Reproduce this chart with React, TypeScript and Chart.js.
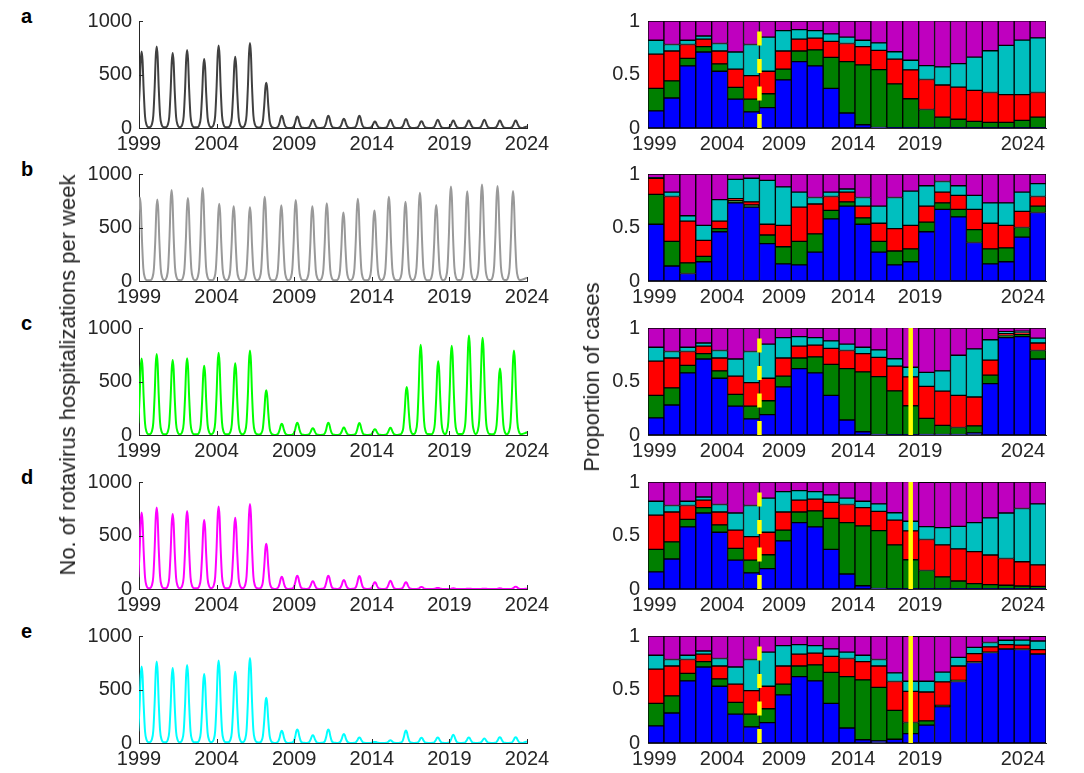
import React, { useEffect, useRef } from 'react';
import { Chart, registerables } from 'chart.js';

Chart.register(...registerables);

const FONT = "'Liberation Sans', Arial, Helvetica, sans-serif";
const TEXT = '#262626';

// ---------- axes ----------
const barYears = [1999, 2000, 2001, 2002, 2003, 2004, 2005, 2006, 2007, 2008, 2009, 2010, 2011, 2012, 2013, 2014, 2015, 2016, 2017, 2018, 2019, 2020, 2021, 2022, 2023];
const xTickYears = [1999, 2004, 2009, 2014, 2019, 2024];
// where the year labels of the proportion panels sit on the bar axis
const barLabelPositions = [1999.4, 2003.65, 2007.54, 2011.88, 2016.09, 2022.55];
const countTicks = [0, 500, 1000];
const proportionTicks = [0, 0.5, 1];
const vaccineStart = 2006; // dashed yellow line
const switchTime = 2015.5; // solid yellow line
const panelLetters = ['a', 'b', 'c', 'd', 'e'];
const lineColors = ['#404040', '#999999', '#00ff00', '#ff00ff', '#00ffff'];
const serotypeColors = ['#0000ff', '#007f00', '#ff0000', '#00bfbf', '#bf00bf'];

// ---------- weekly hospitalisations: season peak times and peak heights ----------
const timesA = [1999.17, 2000.14, 2001.17, 2002.1, 2003.2, 2004.13, 2005.2, 2006.15, 2007.2, 2008.2, 2009.2, 2010.2, 2011.2, 2012.2, 2013.2, 2014.2, 2015.2, 2016.2, 2017.2, 2018.25, 2019.25, 2020.25, 2021.25, 2022.25, 2023.27];
const timesB = [1999.06, 2000.18, 2001.1, 2002.15, 2003.1, 2004.17, 2005.1, 2006.15, 2007.1, 2008.17, 2009.1, 2010.17, 2011.1, 2012.17, 2013.1, 2014.17, 2015.1, 2016.17, 2017.1, 2018.15, 2019.1, 2020.15, 2021.1, 2022.1, 2023.1];
const timesC = [1999.17, 2000.14, 2001.17, 2002.1, 2003.2, 2004.13, 2005.2, 2006.15, 2007.2, 2008.2, 2009.2, 2010.2, 2011.2, 2012.2, 2013.2, 2014.2, 2015.2, 2016.25, 2017.15, 2018.28, 2019.15, 2020.26, 2021.14, 2022.26, 2023.16];

const peaksA = [714, 762, 702, 730, 644, 771, 667, 794, 422, 114, 108, 76, 114, 86, 114, 60, 76, 83, 63, 76, 70, 70, 76, 70, 70];
const peaksB = [781, 762, 851, 775, 870, 721, 698, 689, 787, 708, 756, 698, 727, 641, 768, 660, 787, 740, 825, 711, 883, 838, 902, 889, 841];
const peaksC = [714, 756, 702, 717, 648, 768, 670, 790, 419, 105, 114, 63, 114, 70, 111, 54, 67, 448, 844, 689, 835, 930, 908, 622, 790];
const peaksD = [714, 762, 702, 730, 644, 771, 667, 794, 422, 114, 124, 73, 124, 83, 121, 63, 76, 63, 19, 10, 6, 3, 3, 6, 22];
const peaksE = [714, 762, 702, 730, 644, 771, 667, 794, 422, 114, 127, 73, 127, 83, 51, 10, 25, 117, 48, 51, 76, 51, 41, 54, 54];
const endValues = [15, 30, 25, 3, 15]; // value at the right edge (start of the 2024 season)

// shape of one season's epidemic curve around its peak: [years from peak, fraction of peak]
const seasonShape = [
  [-0.45, 0.01], [-0.32, 0.04], [-0.22, 0.15], [-0.13, 0.5], [-0.06, 0.88], [0, 1],
  [0.06, 0.88], [0.13, 0.5], [0.22, 0.15], [0.32, 0.04], [0.45, 0.01],
];

// ---------- serotype proportions per year (bottom to top) ----------
const aBlue = [0.16, 0.28, 0.58, 0.71, 0.53, 0.27, 0.15, 0.19, 0.45, 0.62, 0.58, 0.37, 0.14, 0.03, 0.005, 0.003, 0.003, 0.003, 0.002, 0.002, 0.002, 0.002, 0.002, 0.002, 0.002];
const aGreen = [0.21, 0.16, 0.07, 0.05, 0.07, 0.11, 0.12, 0.13, 0.1, 0.1, 0.15, 0.29, 0.48, 0.56, 0.54, 0.41, 0.27, 0.17, 0.1, 0.08, 0.06, 0.05, 0.05, 0.07, 0.1];
const aRed = [0.32, 0.28, 0.13, 0.07, 0.12, 0.17, 0.22, 0.21, 0.17, 0.11, 0.11, 0.15, 0.17, 0.17, 0.18, 0.23, 0.27, 0.28, 0.3, 0.3, 0.29, 0.28, 0.26, 0.24, 0.23];
const aCyan = [0.13, 0.06, 0.04, 0.03, 0.07, 0.16, 0.29, 0.32, 0.19, 0.09, 0.07, 0.07, 0.06, 0.06, 0.07, 0.07, 0.09, 0.13, 0.17, 0.22, 0.31, 0.39, 0.46, 0.51, 0.51];
const aMagenta = [0.18, 0.22, 0.18, 0.14, 0.21, 0.29, 0.22, 0.15, 0.09, 0.08, 0.09, 0.12, 0.15, 0.18, 0.21, 0.29, 0.37, 0.42, 0.43, 0.4, 0.34, 0.28, 0.23, 0.18, 0.16];

const bBlue = [0.53, 0.14, 0.07, 0.18, 0.46, 0.73, 0.69, 0.35, 0.16, 0.15, 0.27, 0.58, 0.7, 0.53, 0.27, 0.15, 0.18, 0.46, 0.67, 0.6, 0.36, 0.16, 0.18, 0.41, 0.64];
const bGreen = [0.28, 0.23, 0.1, 0.05, 0.03, 0.02, 0.02, 0.08, 0.16, 0.22, 0.17, 0.08, 0.04, 0.06, 0.1, 0.13, 0.12, 0.09, 0.06, 0.07, 0.12, 0.14, 0.13, 0.09, 0.06];
const bRed = [0.15, 0.42, 0.39, 0.15, 0.07, 0.02, 0.03, 0.1, 0.2, 0.32, 0.28, 0.13, 0.09, 0.11, 0.17, 0.21, 0.22, 0.15, 0.1, 0.13, 0.19, 0.24, 0.21, 0.15, 0.09];
const bCyan = [0.005, 0.04, 0.05, 0.14, 0.2, 0.18, 0.22, 0.41, 0.36, 0.14, 0.06, 0.04, 0.03, 0.08, 0.16, 0.29, 0.32, 0.19, 0.1, 0.09, 0.13, 0.19, 0.21, 0.18, 0.12];
const bMagenta = [0.035, 0.17, 0.39, 0.48, 0.24, 0.05, 0.04, 0.06, 0.12, 0.17, 0.22, 0.17, 0.14, 0.22, 0.3, 0.22, 0.16, 0.11, 0.07, 0.11, 0.2, 0.27, 0.27, 0.17, 0.09];

const cBlue = [0.16, 0.28, 0.58, 0.71, 0.53, 0.27, 0.15, 0.19, 0.45, 0.62, 0.58, 0.37, 0.14, 0.03, 0.005, 0.003, 0.003, 0.005, 0.005, 0.005, 0.02, 0.48, 0.91, 0.92, 0.71];
const cGreen = [0.21, 0.16, 0.07, 0.05, 0.07, 0.11, 0.12, 0.13, 0.1, 0.1, 0.15, 0.29, 0.48, 0.56, 0.54, 0.41, 0.27, 0.15, 0.085, 0.065, 0.065, 0.08, 0.02, 0.02, 0.08];
const cRed = [0.32, 0.28, 0.13, 0.07, 0.12, 0.17, 0.22, 0.21, 0.17, 0.11, 0.11, 0.15, 0.17, 0.17, 0.18, 0.23, 0.27, 0.3, 0.32, 0.3, 0.27, 0.14, 0.02, 0.015, 0.07];
const cCyan = [0.13, 0.06, 0.04, 0.03, 0.07, 0.16, 0.29, 0.32, 0.19, 0.09, 0.07, 0.07, 0.06, 0.06, 0.07, 0.07, 0.09, 0.13, 0.19, 0.375, 0.45, 0.19, 0.015, 0.015, 0.045];
const cMagenta = [0.18, 0.22, 0.18, 0.14, 0.21, 0.29, 0.22, 0.15, 0.09, 0.08, 0.09, 0.12, 0.15, 0.18, 0.21, 0.29, 0.37, 0.415, 0.4, 0.255, 0.195, 0.11, 0.035, 0.03, 0.095];

const dBlue = [0.16, 0.28, 0.58, 0.71, 0.53, 0.27, 0.15, 0.19, 0.45, 0.62, 0.58, 0.37, 0.14, 0.03, 0.005, 0.003, 0.003, 0.003, 0.003, 0.003, 0.003, 0.003, 0.003, 0.003, 0.003];
const dGreen = [0.21, 0.16, 0.07, 0.05, 0.07, 0.11, 0.12, 0.13, 0.1, 0.1, 0.15, 0.29, 0.48, 0.56, 0.54, 0.41, 0.27, 0.17, 0.11, 0.072, 0.047, 0.038, 0.032, 0.025, 0.022];
const dRed = [0.32, 0.28, 0.13, 0.07, 0.12, 0.17, 0.22, 0.21, 0.17, 0.11, 0.11, 0.15, 0.17, 0.17, 0.18, 0.23, 0.27, 0.29, 0.3, 0.3, 0.3, 0.277, 0.25, 0.227, 0.2];
const dCyan = [0.13, 0.06, 0.04, 0.03, 0.07, 0.16, 0.29, 0.32, 0.19, 0.09, 0.07, 0.07, 0.06, 0.06, 0.07, 0.07, 0.09, 0.12, 0.16, 0.21, 0.27, 0.346, 0.425, 0.497, 0.57];
const dMagenta = [0.18, 0.22, 0.18, 0.14, 0.21, 0.29, 0.22, 0.15, 0.09, 0.08, 0.09, 0.12, 0.15, 0.18, 0.21, 0.29, 0.37, 0.415, 0.425, 0.415, 0.38, 0.336, 0.29, 0.248, 0.205];

const eBlue = [0.16, 0.28, 0.58, 0.71, 0.53, 0.27, 0.15, 0.19, 0.45, 0.62, 0.58, 0.37, 0.14, 0.03, 0.02, 0.035, 0.088, 0.167, 0.34, 0.575, 0.752, 0.846, 0.877, 0.874, 0.83];
const eGreen = [0.21, 0.16, 0.07, 0.05, 0.07, 0.11, 0.12, 0.13, 0.1, 0.1, 0.15, 0.29, 0.48, 0.56, 0.5, 0.27, 0.104, 0.04, 0.012, 0.01, 0.006, 0.003, 0.003, 0.003, 0.003];
const eRed = [0.32, 0.28, 0.13, 0.07, 0.12, 0.17, 0.22, 0.21, 0.17, 0.11, 0.11, 0.15, 0.17, 0.17, 0.2, 0.27, 0.29, 0.27, 0.22, 0.135, 0.078, 0.05, 0.04, 0.038, 0.04];
const eCyan = [0.13, 0.06, 0.04, 0.03, 0.07, 0.16, 0.29, 0.32, 0.19, 0.09, 0.07, 0.07, 0.06, 0.06, 0.06, 0.08, 0.095, 0.1, 0.09, 0.08, 0.057, 0.04, 0.04, 0.047, 0.08];
const eMagenta = [0.18, 0.22, 0.18, 0.14, 0.21, 0.29, 0.22, 0.15, 0.09, 0.08, 0.09, 0.12, 0.15, 0.18, 0.22, 0.345, 0.42, 0.42, 0.336, 0.2, 0.107, 0.06, 0.04, 0.038, 0.045];

// ---------- panel definitions ----------
const linePanels = [
  { times: timesA, peaks: peaksA },
  { times: timesB, peaks: peaksB },
  { times: timesC, peaks: peaksC },
  { times: timesA, peaks: peaksD },
  { times: timesA, peaks: peaksE },
];
const barPanels = [
  { series: [aBlue, aGreen, aRed, aCyan, aMagenta], dashed: true, solid: false },
  { series: [bBlue, bGreen, bRed, bCyan, bMagenta], dashed: false, solid: false },
  { series: [cBlue, cGreen, cRed, cCyan, cMagenta], dashed: true, solid: true },
  { series: [dBlue, dGreen, dRed, dCyan, dMagenta], dashed: true, solid: true },
  { series: [eBlue, eGreen, eRed, eCyan, eMagenta], dashed: true, solid: true },
];

// ---------- layout ----------
const ROW_TOP = [21, 174, 328, 482, 636];
const PLOT_H = 107;
const LEFT_X = [139, 527];
const RIGHT_X = [648, 1046];
const YW = 70;
const PT = 14;
const PR = 30;
const XH = 34;

function buildSeries(times: number[], peaks: number[], endValue: number) {
  const pts: { x: number; y: number }[] = [];
  times.forEach((t, i) => {
    seasonShape.forEach(([dt, f]) => pts.push({ x: t + dt, y: peaks[i] * f }));
  });
  pts.push({ x: 2024, y: endValue });
  pts.sort((p, q) => p.x - q.x);
  return pts;
}

const tickFont = { family: FONT, size: 20 };

const inwardTicks = {
  id: 'inwardTicks',
  afterDraw(chart: any) {
    const { ctx, chartArea, scales } = chart;
    ctx.save();
    ctx.strokeStyle = TEXT;
    ctx.lineWidth = 1;
    scales.x.ticks.forEach((t: any) => {
      const px = Math.round(scales.x.getPixelForValue(t.value)) + 0.5;
      ctx.beginPath();
      ctx.moveTo(px, chartArea.bottom);
      ctx.lineTo(px, chartArea.bottom - 4);
      ctx.stroke();
    });
    scales.y.ticks.forEach((t: any) => {
      const py = Math.round(scales.y.getPixelForValue(t.value)) + 0.5;
      ctx.beginPath();
      ctx.moveTo(chartArea.left, py);
      ctx.lineTo(chartArea.left + 4, py);
      ctx.stroke();
    });
    ctx.restore();
  },
};

const yellowLines = {
  id: 'yellowLines',
  afterDatasetsDraw(chart: any, _args: any, opts: any) {
    const { ctx, chartArea, scales } = chart;
    ctx.save();
    ctx.strokeStyle = '#ffff00';
    ctx.lineWidth = 4.5;
    if (opts.dashed) {
      const px = scales.x.getPixelForValue(vaccineStart);
      ctx.setLineDash([14, 13.5]);
      ctx.beginPath();
      ctx.moveTo(px, chartArea.bottom);
      ctx.lineTo(px, chartArea.top);
      ctx.stroke();
    }
    if (opts.solid) {
      const px = scales.x.getPixelForValue(switchTime);
      ctx.setLineDash([]);
      ctx.beginPath();
      ctx.moveTo(px, chartArea.bottom);
      ctx.lineTo(px, chartArea.top);
      ctx.stroke();
    }
    ctx.restore();
  },
};

function xScale(extra: any, height: number, tickPositions: number[]) {
  return {
    type: 'linear',
    min: 1999,
    max: 2024,
    offset: false,
    afterBuildTicks: (s: any) => {
      s.ticks = tickPositions.map((v) => ({ value: v }));
    },
    ticks: {
      font: tickFont, color: TEXT, padding: 4, maxRotation: 0, autoSkip: false,
      callback: (_v: any, idx: number) => String(xTickYears[idx]),
    },
    grid: { display: false, drawTicks: false },
    border: { display: true, color: TEXT, width: 1 },
    afterFit: (s: any) => {
      s.height = height;
      s.paddingLeft = 0;
      s.paddingRight = 0;
    },
    ...extra,
  };
}

function yScale(max: number, tickVals: number[], padding: number, extra: any) {
  return {
    min: 0,
    max,
    afterBuildTicks: (s: any) => {
      s.ticks = tickVals.map((v) => ({ value: v }));
    },
    ticks: { font: tickFont, color: TEXT, padding, callback: (v: any) => String(v) },
    grid: { display: false, drawTicks: false },
    border: { display: true, color: TEXT, width: 1 },
    afterFit: (s: any) => {
      s.width = YW;
      s.paddingTop = 0;
      s.paddingBottom = 0;
    },
    ...extra,
  };
}

function lineConfig(i: number) {
  const p = linePanels[i];
  return {
    type: 'line',
    data: {
      datasets: [
        {
          data: buildSeries(p.times, p.peaks, endValues[i]),
          borderColor: lineColors[i],
          borderWidth: 2,
          pointRadius: 0,
          cubicInterpolationMode: 'monotone',
          fill: false,
        },
      ],
    },
    options: {
      animation: false,
      responsive: false,
      events: [],
      layout: { padding: { top: PT, right: PR, left: 0, bottom: 0 } },
      plugins: { legend: { display: false }, tooltip: { enabled: false } },
      scales: { x: xScale({}, XH, xTickYears), y: yScale(1000, countTicks, 7, {}) },
    },
    plugins: [inwardTicks],
  };
}

function barConfig(i: number) {
  const p = barPanels[i];
  return {
    type: 'bar',
    data: {
      datasets: p.series.map((vals, k) => ({
        data: barYears.map((yr, j) => ({ x: yr + 0.5, y: vals[j] })),
        backgroundColor: serotypeColors[k],
        borderColor: '#000000',
        borderWidth: 1,
        borderSkipped: false,
        barPercentage: 1,
        categoryPercentage: 1,
      })),
    },
    options: {
      animation: false,
      responsive: false,
      events: [],
      layout: { padding: { top: PT, right: PR, left: 0, bottom: 0 } },
      plugins: {
        legend: { display: false },
        tooltip: { enabled: false },
        yellowLines: { dashed: p.dashed, solid: p.solid },
      },
      scales: {
        x: xScale({ stacked: true }, XH, barLabelPositions),
        y: yScale(1, proportionTicks, 8, { stacked: true }),
      },
    },
    plugins: [yellowLines],
  };
}

function Panel({ left, top, width, height, config }: any) {
  const ref = useRef<HTMLCanvasElement | null>(null);
  useEffect(() => {
    if (!ref.current) return;
    const chart = new Chart(ref.current, config);
    return () => chart.destroy();
  }, []);
  return (
    <canvas
      ref={ref}
      width={width}
      height={height}
      style={{ position: 'absolute', left, top, width, height }}
    />
  );
}

export default function App() {
  useEffect(() => {
    document.body.style.margin = '0';
  }, []);
  const panels: any[] = [];
  ROW_TOP.forEach((rt, i) => {
    panels.push(
      <Panel
        key={'l' + i}
        left={LEFT_X[0] - YW}
        top={rt - PT}
        width={YW + LEFT_X[1] - LEFT_X[0] + PR}
        height={PT + PLOT_H + XH}
        config={lineConfig(i)}
      />
    );
    panels.push(
      <Panel
        key={'r' + i}
        left={RIGHT_X[0] - YW}
        top={rt - PT}
        width={YW + RIGHT_X[1] - RIGHT_X[0] + PR}
        height={PT + PLOT_H + XH}
        config={barConfig(i)}
      />
    );
  });
  return (
    <div style={{ position: 'absolute', left: 0, top: 0, width: 1084, height: 773, background: '#ffffff', overflow: 'hidden', fontFamily: FONT }}>
      {panels}
      {panelLetters.map((l, i) => (
        <div
          key={l}
          style={{ position: 'absolute', left: 21, top: ROW_TOP[i] - 15, fontSize: 20, lineHeight: '20px', fontWeight: 'bold', color: '#000' }}
        >
          {l}
        </div>
      ))}
      <div
        style={{
          position: 'absolute', left: 68, top: 375, transform: 'translate(-50%, -50%) rotate(-90deg)',
          whiteSpace: 'nowrap', fontSize: 22, lineHeight: '22px', color: TEXT,
        }}
      >
        No. of rotavirus hospitalizations per week
      </div>
      <div
        style={{
          position: 'absolute', left: 592, top: 377, transform: 'translate(-50%, -50%) rotate(-90deg)',
          whiteSpace: 'nowrap', fontSize: 22, lineHeight: '22px', color: TEXT,
        }}
      >
        Proportion of cases
      </div>
    </div>
  );
}
